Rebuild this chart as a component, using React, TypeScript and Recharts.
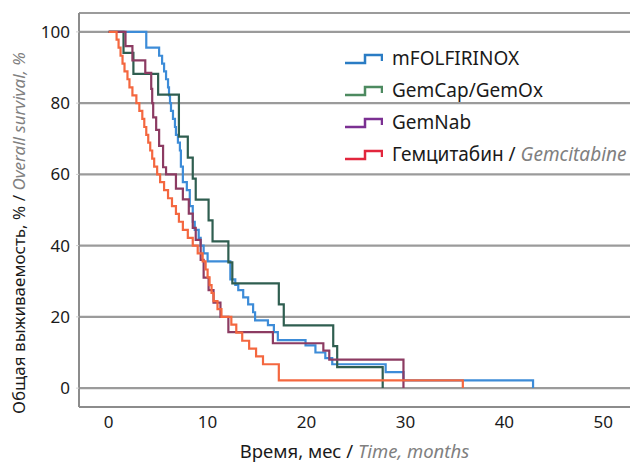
import React from 'react';
import { LineChart, Line, XAxis, YAxis, CartesianGrid, Legend, Label } from 'recharts';

// Kaplan–Meier steps: t = months, s = overall survival, %
const mFolfirinox = [
  { t: 0, s: 100 }, { t: 3.8, s: 95.6 }, { t: 5.1, s: 93.3 }, { t: 5.4, s: 91.1 }, { t: 5.6, s: 88.9 },
  { t: 5.8, s: 86.7 }, { t: 6.0, s: 84.4 }, { t: 6.1, s: 82.2 }, { t: 6.2, s: 80 }, { t: 6.3, s: 77.8 },
  { t: 6.5, s: 75.6 }, { t: 6.7, s: 73.3 }, { t: 6.8, s: 71.1 }, { t: 7.0, s: 68.9 }, { t: 7.2, s: 66.7 },
  { t: 7.3, s: 62.2 }, { t: 7.5, s: 57.8 }, { t: 7.9, s: 55.6 }, { t: 8.2, s: 51.1 }, { t: 8.5, s: 46.7 },
  { t: 8.7, s: 44.4 }, { t: 9.1, s: 42.2 }, { t: 9.3, s: 40 }, { t: 9.6, s: 37.8 }, { t: 10.0, s: 35.6 },
  { t: 12.3, s: 30.5 }, { t: 12.8, s: 29 }, { t: 13.1, s: 27.5 }, { t: 13.6, s: 25.5 }, { t: 14.1, s: 23.5 },
  { t: 14.6, s: 21.3 }, { t: 14.8, s: 19 }, { t: 16.1, s: 17.7 }, { t: 16.7, s: 15.7 }, { t: 17.1, s: 13.5 },
  { t: 19.9, s: 12 }, { t: 20.9, s: 10 }, { t: 21.9, s: 8.4 }, { t: 22.6, s: 6.7 }, { t: 28.0, s: 4.5 },
  { t: 29.8, s: 2.2 }, { t: 42.9, s: 0 },
];

const gemCapGemOx = [
  { t: 0, s: 100 }, { t: 1.5, s: 94.1 }, { t: 2.5, s: 88.2 }, { t: 5.0, s: 82.4 }, { t: 7.1, s: 70.6 },
  { t: 8.0, s: 64.7 }, { t: 8.5, s: 58.8 }, { t: 8.8, s: 52.9 }, { t: 10.1, s: 47.1 }, { t: 10.5, s: 41.2 },
  { t: 12.1, s: 35.3 }, { t: 12.5, s: 29.4 }, { t: 17.2, s: 23.5 }, { t: 17.7, s: 17.6 }, { t: 22.7, s: 11.8 },
  { t: 23.1, s: 5.9 }, { t: 27.7, s: 0 },
];

const gemNab = [
  { t: 0, s: 100 }, { t: 1.7, s: 96 }, { t: 2.4, s: 92 }, { t: 3.7, s: 88.5 }, { t: 4.3, s: 84 },
  { t: 4.4, s: 80 }, { t: 4.5, s: 76 }, { t: 4.8, s: 72.5 }, { t: 5.1, s: 68 }, { t: 5.5, s: 62 },
  { t: 5.8, s: 60 }, { t: 6.8, s: 56 }, { t: 7.5, s: 53 }, { t: 8.1, s: 49 }, { t: 8.5, s: 45 },
  { t: 8.8, s: 41.6 }, { t: 9.3, s: 36 }, { t: 9.6, s: 31 }, { t: 10.1, s: 27.5 }, { t: 10.6, s: 24 },
  { t: 11.3, s: 20 }, { t: 12.1, s: 15.7 }, { t: 16.6, s: 12.6 }, { t: 21.7, s: 10.5 }, { t: 22.3, s: 8 },
  { t: 29.8, s: 0 },
];

const gemcitabine = [
  { t: 0, s: 100 }, { t: 0.8, s: 97.8 }, { t: 1.0, s: 95.6 }, { t: 1.2, s: 93.3 }, { t: 1.4, s: 91.1 },
  { t: 1.6, s: 88.9 }, { t: 1.9, s: 86.7 }, { t: 2.1, s: 84.4 }, { t: 2.4, s: 82.2 }, { t: 2.8, s: 80 },
  { t: 3.1, s: 77.8 }, { t: 3.4, s: 75.6 }, { t: 3.6, s: 73.3 }, { t: 3.8, s: 71.1 }, { t: 4.0, s: 68.9 },
  { t: 4.2, s: 66.7 }, { t: 4.4, s: 64.4 }, { t: 4.6, s: 62.2 }, { t: 4.9, s: 60 }, { t: 5.2, s: 57.8 },
  { t: 5.6, s: 55.6 }, { t: 6.0, s: 53.3 }, { t: 6.4, s: 51.1 }, { t: 6.8, s: 48.9 }, { t: 7.1, s: 46.7 },
  { t: 7.5, s: 44.4 }, { t: 8.0, s: 42.2 }, { t: 8.5, s: 40 }, { t: 9.0, s: 37.8 }, { t: 9.5, s: 35.6 },
  { t: 9.8, s: 33.3 }, { t: 10.0, s: 31.1 }, { t: 10.2, s: 28.9 }, { t: 10.4, s: 26.7 }, { t: 10.6, s: 24.4 },
  { t: 11.0, s: 22.2 }, { t: 11.4, s: 20 }, { t: 12.4, s: 17.8 }, { t: 12.9, s: 15.6 }, { t: 13.5, s: 13.3 },
  { t: 14.2, s: 11.1 }, { t: 14.9, s: 8.9 }, { t: 15.6, s: 6.7 }, { t: 17.2, s: 2.2 }, { t: 35.8, s: 0 },
];

const xTicks = [0, 10, 20, 30, 40, 50];
const yTicks = [0, 20, 40, 60, 80, 100];

const series = [
  { key: 'mFOLFIRINOX', data: mFolfirinox, color: '#3d8cd8', legendColor: '#2a7cc4', label: 'mFOLFIRINOX', en: '' },
  { key: 'GemCap/GemOx', data: gemCapGemOx, color: '#2f5e50', legendColor: '#4d8a60', label: 'GemCap/GemOx', en: '' },
  { key: 'GemNab', data: gemNab, color: '#8c3b62', legendColor: '#7b3092', label: 'GemNab', en: '' },
  { key: 'Гемцитабин', data: gemcitabine, color: '#f4673f', legendColor: '#e2263d', label: 'Гемцитабин / ', en: 'Gemcitabine' },
];

const FONT = '"Noto Sans", "Open Sans", sans-serif';

const LegendBox = () => (
  <div style={{ fontFamily: FONT }}>
    {series.map((s) => (
      <div key={s.key} style={{ height: 32, display: 'flex', alignItems: 'center' }}>
        <svg width={40} height={16} style={{ display: 'block' }}>
          <path d="M2 13 H22 V5 H39 V11" fill="none" stroke={s.legendColor} strokeWidth={2.5} />
        </svg>
        <span style={{ marginLeft: 9, fontSize: 19, color: '#1a1a1a', whiteSpace: 'nowrap', lineHeight: '19px' }}>
          {s.label}
          {s.en ? <span style={{ color: '#808080', fontStyle: 'italic' }}>{s.en}</span> : null}
        </span>
      </div>
    ))}
  </div>
);

const YTitle = (props: any) => {
  const vb = props.viewBox || { x: 0, y: 13, width: 79, height: 394 };
  const cx = vb.x + 18;
  const cy = vb.y + vb.height / 2 + 23;
  return (
    <text x={cx} y={cy} transform={`rotate(-90 ${cx} ${cy})`} textAnchor="middle" dominantBaseline="central" fontSize={17}>
      <tspan fill="#1a1a1a">Общая выживаемость, % / </tspan>
      <tspan fill="#808080" fontStyle="italic">Overall survival, %</tspan>
    </text>
  );
};

const XTitle = (props: any) => {
  const vb = props.viewBox || { x: 79, y: 407, width: 551, height: 55 };
  const cx = vb.x + vb.width / 2;
  const cy = vb.y + 43;
  return (
    <text x={cx} y={cy} textAnchor="middle" dominantBaseline="central" fontSize={18.5}>
      <tspan fill="#1a1a1a">Время, мес / </tspan>
      <tspan fill="#808080" fontStyle="italic">Time, months</tspan>
    </text>
  );
};

export default function App() {
  return (
    <div style={{ position: 'absolute', left: 0, top: 0, width: 633, height: 462, background: '#fff', fontFamily: FONT }}>
      <LineChart width={633} height={462} margin={{ top: 13, right: 3, bottom: 0, left: 0 }}>
        <CartesianGrid vertical={false} stroke="#9b9b9b" strokeWidth={2.2} />
        <XAxis
          type="number"
          dataKey="t"
          domain={[-3, 52.7]}
          ticks={xTicks}
          allowDataOverflow
          height={55}
          axisLine={{ stroke: '#8c8c8c', strokeWidth: 2 }}
          tickLine={false}
          tickSize={0}
          tickMargin={9}
          tick={{ fontSize: 17, fill: '#1a1a1a' }}
        >
          <Label content={<XTitle />} position="bottom" />
        </XAxis>
        <YAxis
          type="number"
          dataKey="s"
          domain={[-5.3, 105.3]}
          ticks={yTicks}
          allowDataOverflow
          width={79}
          axisLine={{ stroke: '#8c8c8c', strokeWidth: 2 }}
          tickLine={{ stroke: '#d0d0d0' }}
          tickSize={3}
          tickMargin={6}
          tick={{ fontSize: 17, fill: '#1a1a1a' }}
        >
          <Label content={<YTitle />} position="left" />
        </YAxis>
        <Legend
          layout="vertical"
          align="center"
          verticalAlign="middle"
          content={() => <LegendBox />}
          wrapperStyle={{ position: 'absolute', left: 343, top: 42, width: 290 }}
        />
        {series.map((s) => (
          <Line
            key={s.key}
            data={s.data}
            dataKey="s"
            name={s.key}
            type="stepAfter"
            stroke={s.color}
            strokeWidth={2.2}
            dot={false}
            activeDot={false}
            isAnimationActive={false}
          />
        ))}
      </LineChart>
    </div>
  );
}
